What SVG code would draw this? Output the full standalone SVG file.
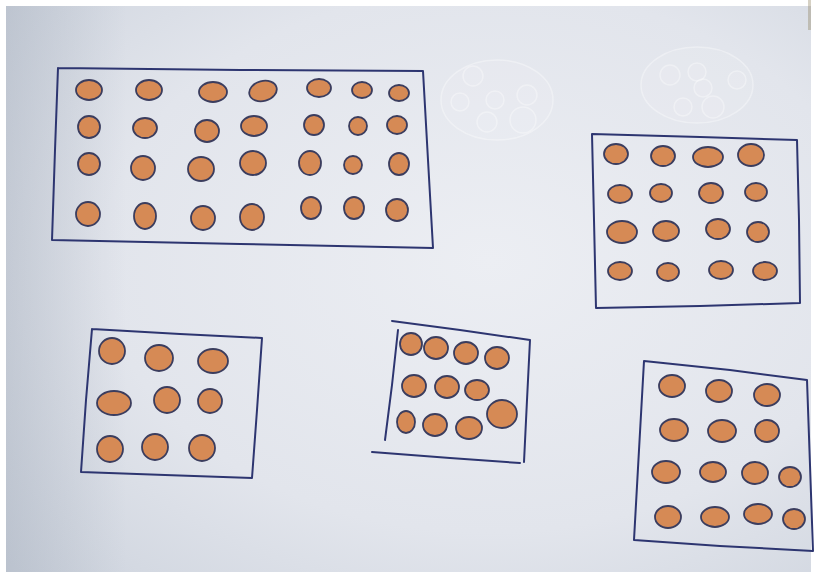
<svg xmlns="http://www.w3.org/2000/svg" width="818" height="572" viewBox="0 0 818 572">
<defs>
<radialGradient id="paper" cx="0.6" cy="0.45" r="0.8">
<stop offset="0" stop-color="#eceef3"/>
<stop offset="0.6" stop-color="#e2e5ec"/>
<stop offset="1" stop-color="#cdd3dd"/>
</radialGradient>
<linearGradient id="leftshade" x1="0" y1="0" x2="1" y2="0">
<stop offset="0" stop-color="#9aa4b3" stop-opacity="0.35"/>
<stop offset="0.15" stop-color="#9aa4b3" stop-opacity="0"/>
</linearGradient>
</defs>
<style>
.box{fill:none;stroke:#2d3570;stroke-width:2;stroke-linejoin:round;stroke-linecap:round}
.dot{fill:#d68a55;stroke:#3b3d5e;stroke-width:1.8}
.emb{fill:#ffffff;fill-opacity:0.08;stroke:#ffffff;stroke-opacity:0.35;stroke-width:1.5}
</style>
<rect x="0" y="0" width="818" height="572" fill="#ffffff"/>
<rect x="6" y="6" width="805" height="566" fill="url(#paper)"/>
<rect x="6" y="6" width="805" height="566" fill="url(#leftshade)"/>
<rect x="808" y="0" width="3" height="30" fill="#8a7a55" opacity="0.35"/>
<g id="emboss">
<ellipse class="emb" cx="497" cy="100" rx="56" ry="40"/>
<circle class="emb" cx="473" cy="76" r="10"/>
<circle class="emb" cx="495" cy="100" r="9"/>
<circle class="emb" cx="527" cy="95" r="10"/>
<circle class="emb" cx="460" cy="102" r="9"/>
<circle class="emb" cx="487" cy="122" r="10"/>
<circle class="emb" cx="523" cy="120" r="13"/>
<ellipse class="emb" cx="697" cy="85" rx="56" ry="38"/>
<circle class="emb" cx="670" cy="75" r="10"/>
<circle class="emb" cx="697" cy="72" r="9"/>
<circle class="emb" cx="703" cy="88" r="9"/>
<circle class="emb" cx="713" cy="107" r="11"/>
<circle class="emb" cx="683" cy="107" r="9"/>
<circle class="emb" cx="737" cy="80" r="9"/>
</g>
<g id="box1">
<path class="box" d="M58,68 L240,70 L423,71 L428,160 L433,248 L240,244 L52,240 L55,150 L58,68"/>
<ellipse class="dot" cx="89" cy="90" rx="13" ry="10"/>
<ellipse class="dot" cx="149" cy="90" rx="13" ry="10"/>
<ellipse class="dot" cx="213" cy="92" rx="14" ry="10"/>
<ellipse class="dot" cx="263" cy="91" rx="14" ry="10" transform="rotate(-15 263 91)"/>
<ellipse class="dot" cx="319" cy="88" rx="12" ry="9"/>
<ellipse class="dot" cx="362" cy="90" rx="10" ry="8"/>
<ellipse class="dot" cx="399" cy="93" rx="10" ry="8"/>
<ellipse class="dot" cx="89" cy="127" rx="11" ry="11"/>
<ellipse class="dot" cx="145" cy="128" rx="12" ry="10"/>
<ellipse class="dot" cx="207" cy="131" rx="12" ry="11"/>
<ellipse class="dot" cx="254" cy="126" rx="13" ry="10"/>
<ellipse class="dot" cx="314" cy="125" rx="10" ry="10"/>
<ellipse class="dot" cx="358" cy="126" rx="9" ry="9"/>
<ellipse class="dot" cx="397" cy="125" rx="10" ry="9"/>
<ellipse class="dot" cx="89" cy="164" rx="11" ry="11"/>
<ellipse class="dot" cx="143" cy="168" rx="12" ry="12"/>
<ellipse class="dot" cx="201" cy="169" rx="13" ry="12"/>
<ellipse class="dot" cx="253" cy="163" rx="13" ry="12"/>
<ellipse class="dot" cx="310" cy="163" rx="11" ry="12"/>
<ellipse class="dot" cx="353" cy="165" rx="9" ry="9"/>
<ellipse class="dot" cx="399" cy="164" rx="10" ry="11"/>
<ellipse class="dot" cx="88" cy="214" rx="12" ry="12"/>
<ellipse class="dot" cx="145" cy="216" rx="11" ry="13"/>
<ellipse class="dot" cx="203" cy="218" rx="12" ry="12"/>
<ellipse class="dot" cx="252" cy="217" rx="12" ry="13"/>
<ellipse class="dot" cx="311" cy="208" rx="10" ry="11"/>
<ellipse class="dot" cx="354" cy="208" rx="10" ry="11"/>
<ellipse class="dot" cx="397" cy="210" rx="11" ry="11"/>
</g>
<g id="box2">
<path class="box" d="M592,134 L700,137 L797,140 L799,220 L800,303 L700,306 L596,308 L594,220 L592,134"/>
<ellipse class="dot" cx="616" cy="154" rx="12" ry="10"/>
<ellipse class="dot" cx="663" cy="156" rx="12" ry="10"/>
<ellipse class="dot" cx="708" cy="157" rx="15" ry="10"/>
<ellipse class="dot" cx="751" cy="155" rx="13" ry="11"/>
<ellipse class="dot" cx="620" cy="194" rx="12" ry="9"/>
<ellipse class="dot" cx="661" cy="193" rx="11" ry="9"/>
<ellipse class="dot" cx="711" cy="193" rx="12" ry="10"/>
<ellipse class="dot" cx="756" cy="192" rx="11" ry="9"/>
<ellipse class="dot" cx="622" cy="232" rx="15" ry="11"/>
<ellipse class="dot" cx="666" cy="231" rx="13" ry="10"/>
<ellipse class="dot" cx="718" cy="229" rx="12" ry="10"/>
<ellipse class="dot" cx="758" cy="232" rx="11" ry="10"/>
<ellipse class="dot" cx="620" cy="271" rx="12" ry="9"/>
<ellipse class="dot" cx="668" cy="272" rx="11" ry="9"/>
<ellipse class="dot" cx="721" cy="270" rx="12" ry="9"/>
<ellipse class="dot" cx="765" cy="271" rx="12" ry="9"/>
</g>
<g id="box3">
<path class="box" d="M92,329 L180,334 L262,338 L257,410 L252,478 L165,475 L81,472 L86,400 L92,329"/>
<ellipse class="dot" cx="112" cy="351" rx="13" ry="13"/>
<ellipse class="dot" cx="159" cy="358" rx="14" ry="13"/>
<ellipse class="dot" cx="213" cy="361" rx="15" ry="12"/>
<ellipse class="dot" cx="114" cy="403" rx="17" ry="12"/>
<ellipse class="dot" cx="167" cy="400" rx="13" ry="13"/>
<ellipse class="dot" cx="210" cy="401" rx="12" ry="12"/>
<ellipse class="dot" cx="110" cy="449" rx="13" ry="13"/>
<ellipse class="dot" cx="155" cy="447" rx="13" ry="13"/>
<ellipse class="dot" cx="202" cy="448" rx="13" ry="13"/>
</g>
<g id="box4">
<path class="box" d="M392,321 L460,330 L530,340 L527,400 L524,462"/>
<path class="box" d="M398,330 L392,385 L385,440"/>
<path class="box" d="M372,452 L450,458 L520,463"/>
<ellipse class="dot" cx="411" cy="344" rx="11" ry="11"/>
<ellipse class="dot" cx="436" cy="348" rx="12" ry="11"/>
<ellipse class="dot" cx="466" cy="353" rx="12" ry="11"/>
<ellipse class="dot" cx="497" cy="358" rx="12" ry="11"/>
<ellipse class="dot" cx="414" cy="386" rx="12" ry="11"/>
<ellipse class="dot" cx="447" cy="387" rx="12" ry="11"/>
<ellipse class="dot" cx="477" cy="390" rx="12" ry="10"/>
<ellipse class="dot" cx="406" cy="422" rx="9" ry="11"/>
<ellipse class="dot" cx="435" cy="425" rx="12" ry="11"/>
<ellipse class="dot" cx="469" cy="428" rx="13" ry="11"/>
<ellipse class="dot" cx="502" cy="414" rx="15" ry="14"/>
</g>
<g id="box5">
<path class="box" d="M644,361 L730,370 L807,380 L810,465 L813,551 L720,546 L634,540 L639,450 L644,361"/>
<ellipse class="dot" cx="672" cy="386" rx="13" ry="11"/>
<ellipse class="dot" cx="719" cy="391" rx="13" ry="11"/>
<ellipse class="dot" cx="767" cy="395" rx="13" ry="11"/>
<ellipse class="dot" cx="674" cy="430" rx="14" ry="11"/>
<ellipse class="dot" cx="722" cy="431" rx="14" ry="11"/>
<ellipse class="dot" cx="767" cy="431" rx="12" ry="11"/>
<ellipse class="dot" cx="666" cy="472" rx="14" ry="11"/>
<ellipse class="dot" cx="713" cy="472" rx="13" ry="10"/>
<ellipse class="dot" cx="755" cy="473" rx="13" ry="11"/>
<ellipse class="dot" cx="790" cy="477" rx="11" ry="10"/>
<ellipse class="dot" cx="668" cy="517" rx="13" ry="11"/>
<ellipse class="dot" cx="715" cy="517" rx="14" ry="10"/>
<ellipse class="dot" cx="758" cy="514" rx="14" ry="10"/>
<ellipse class="dot" cx="794" cy="519" rx="11" ry="10"/>
</g>
</svg>
